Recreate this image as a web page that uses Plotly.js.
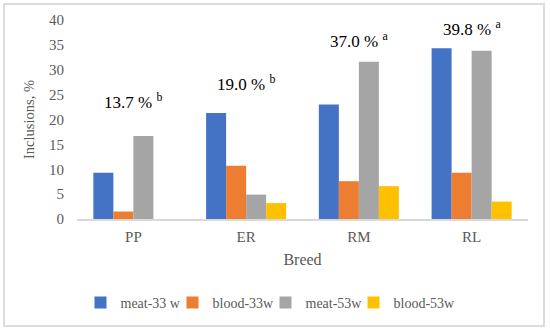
<!DOCTYPE html>
<html>
<head>
<meta charset="utf-8">
<script src="https://cdn.plot.ly/plotly-3.0.1.min.js"></script>
<style>
html,body{margin:0;padding:0;background:#fff;}
#wrap{position:relative;width:550px;height:331px;}
#chart{width:550px;height:331px;}
#frame{position:absolute;left:3px;top:3px;width:538px;height:320px;border:2px solid #dcdcdc;pointer-events:none;}
</style>
</head>
<body>
<div id="wrap"><div id="chart"></div><div id="frame"></div></div>
<script>
const breeds = ["PP", "ER", "RM", "RL"];
const meat33 = [9.3, 21.3, 23.0, 34.3];
const blood33 = [1.5, 10.7, 7.6, 9.3];
const meat53 = [16.7, 4.9, 31.6, 33.8];
const blood53 = [null, 3.2, 6.6, 3.5];
const seriesNames = ["meat-33 w", "blood-33w", "meat-53w", "blood-53w"];
const colors = ["#4472C4", "#ED7D31", "#A5A5A5", "#FFC000"];
const totals = ["13.7 %", "19.0 %", "37.0 %", "39.8 %"];
const letters = ["b", "b", "a", "a"];
const labelY = [23.7, 27.4, 36.0, 38.3];

const font = "Liberation Serif";
const legendIds = ["legend", "legend2", "legend3", "legend4"];
const legendLeft = [80.5, 172.5, 265.5, 353.5];

const data = [meat33, blood33, meat53, blood53].map((v, i) => ({
  type: "bar", x: breeds, y: v, name: seriesNames[i],
  marker: {color: colors[i]}, legend: legendIds[i], showlegend: true
}));

const annotations = breeds.map((b, i) => ({
  x: b, y: labelY[i], xref: "x", yref: "y",
  text: totals[i] + " <sup>" + letters[i] + "</sup>",
  showarrow: false, font: {family: font, size: 17, color: "#000"}
}));

const layout = {
  width: 550, height: 331,
  showlegend: true,
  margin: {l: 77, r: 22, t: 20, b: 111.5},
  barmode: "group", bargap: 0.29, bargroupgap: 0,
  paper_bgcolor: "#fff", plot_bgcolor: "#fff",
  font: {family: font, color: "#595959", size: 14},
  xaxis: {
    automargin: false,
    showline: true, linecolor: "#d9d9d9", linewidth: 1.5,
    ticks: "", tickfont: {family: font, size: 15, color: "#595959"},
    ticklabelstandoff: 3,
    title: {text: "Breed", font: {family: font, size: 16, color: "#595959"}, standoff: 10}
  },
  yaxis: {
    automargin: false,
    range: [0, 40], dtick: 5, showgrid: false, zeroline: false,
    showline: false, ticks: "", tickfont: {family: font, size: 15, color: "#595959"},
    ticklabelstandoff: 12,
    title: {text: "Inclusions, %", font: {family: font, size: 14.5, color: "#595959"}, standoff: 10}
  },
  annotations: annotations
};

legendIds.forEach((id, i) => {
  layout[id] = {
    orientation: "h", xref: "container", yref: "container",
    x: legendLeft[i] / 550, xanchor: "left",
    y: 28 / 331, yanchor: "middle",
    font: {family: font, size: 14, color: "#595959"}, itemwidth: 30,
    bgcolor: "rgba(0,0,0,0)"
  };
});

Plotly.newPlot("chart", data, layout, {displayModeBar: false, staticPlot: true});
</script>
</body>
</html>
